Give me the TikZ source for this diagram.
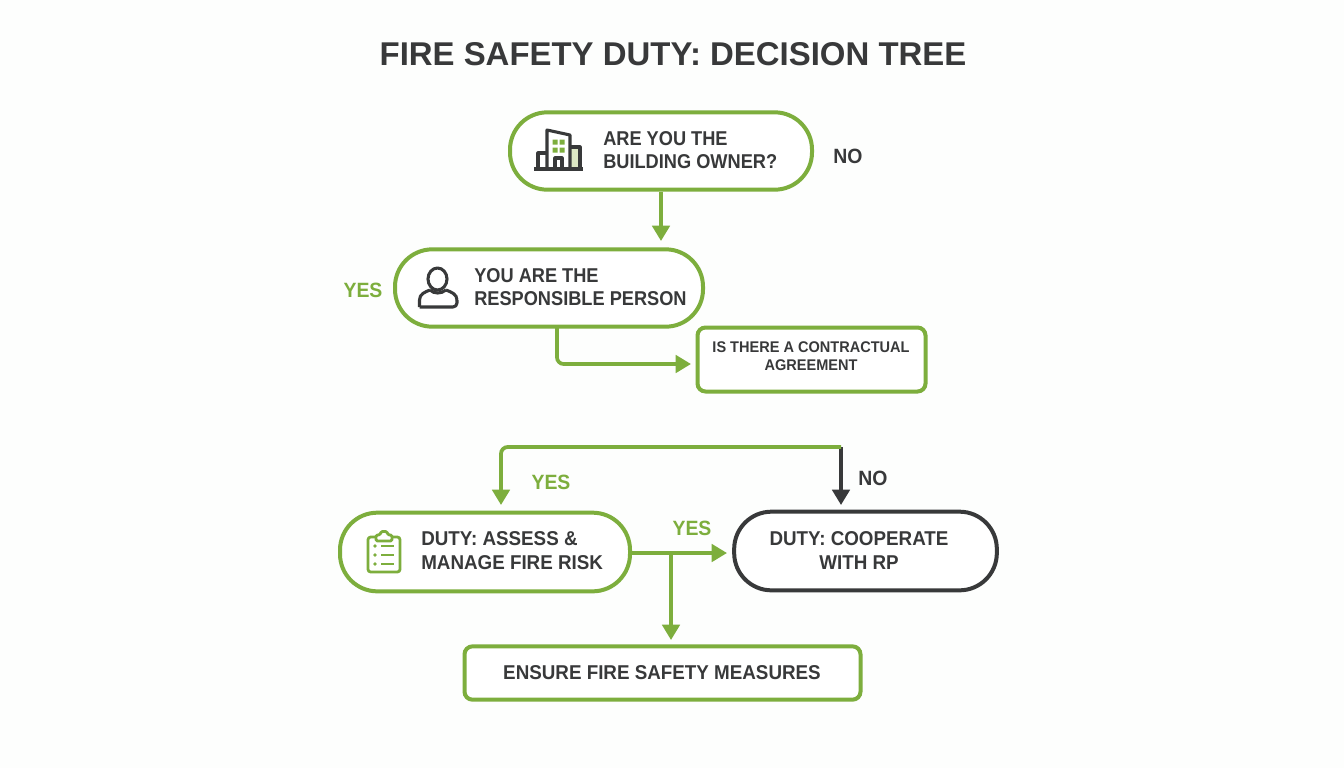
\documentclass[tikz,border=0pt]{standalone}
\usepackage{fontspec}
\setmainfont{Liberation Sans}
\newfontfamily\medfont[FakeStretch=0.91]{Liberation Sans Bold}
\newfontfamily\widefont[FakeStretch=0.94]{Liberation Sans Bold}
\usetikzlibrary{arrows.meta,calc}
\definecolor{lime}{HTML}{7DAE3D}
\definecolor{ink}{HTML}{38393A}
\definecolor{pale}{HTML}{DDE8C4}
\definecolor{paper}{HTML}{FDFEFD}
\tikzset{
  x=0.75pt,y=-0.75pt,
  pill/.style={draw=lime,line width=3pt,fill=white,rounded corners=28pt,text=ink,align=center,inner sep=0pt},
  card/.style={pill,rounded corners=6pt},
  lab/.style={font=\widefont\fontsize{15.5}{18}\selectfont,inner sep=0pt},
  link/.style={draw=lime,line width=2.8pt,rounded corners=5pt},
  tip/.style={-{Triangle[length=11.5pt,width=13pt]}},
  icon/.style={draw=ink,line width=2.3pt,line join=round},
  gicon/.style={draw=lime,line width=2.1pt,line join=round},
  txt/.style={text=ink,font=\medfont\fontsize{15}{17.6}\selectfont,inner sep=0pt},
  wtxt/.style={text=ink,font=\widefont\fontsize{15}{18}\selectfont,inner sep=0pt}
}
\begin{document}
\begin{tikzpicture}
\useasboundingbox (0,0) rectangle (1344,768);
\fill[paper] (0,0) rectangle (1344,768);
\node[font=\bfseries\fontsize{24.7}{28}\selectfont,text=ink,inner sep=0pt] (title) at (673,54) {FIRE SAFETY DUTY: DECISION TREE};
\node[pill,minimum width=226.5pt,minimum height=58pt] (owner) at (661,151) {};
\node[pill,minimum width=231pt,minimum height=58pt] (person) at (549,288) {};
\node[card,minimum width=171pt,minimum height=48pt] (contract) at (811.5,359.5) {};
\node[pill,minimum width=217.5pt,minimum height=59pt] (assess) at (485,552) {};
\node[pill,draw=ink,minimum width=197pt,minimum height=59pt] (cooperate) at (865.5,551) {};
\node[card,minimum width=297pt,minimum height=40pt] (ensure) at (662.5,673) {};
\node[txt,align=left,anchor=west] (ownertxt) at (603,150) {ARE YOU THE\\BUILDING OWNER?};
\node[txt,align=left,anchor=west] (persontxt) at (474,287) {YOU ARE THE\\RESPONSIBLE PERSON};
\node[wtxt,font=\widefont\fontsize{11.6}{13.6}\selectfont,align=center] (contracttxt) at (811,356) {IS THERE A CONTRACTUAL\\AGREEMENT};
\node[wtxt,align=left,anchor=west] (assesstxt) at (421,551) {DUTY: ASSESS \&\\MANAGE FIRE RISK};
\node[wtxt,align=center] (cooperatetxt) at (859,551) {DUTY: COOPERATE\\WITH RP};
\node[wtxt] (ensuretxt) at (662,673) {ENSURE FIRE SAFETY MEASURES};
\node[lab,text=ink] (no1) at (848,156) {NO};
\node[lab,text=lime] (yes1) at (363,290) {YES};
\node[lab,text=lime] (yes2) at (551,482) {YES};
\node[lab,text=ink] (no2) at (873,478) {NO};
\node[lab,text=lime] (yes3) at (692,528) {YES};
% connectors
\coordinate (j1) at (557,364);
\coordinate (j2) at (841,447);
\coordinate (j3) at (501,447);
\coordinate (j4) at (671,553);
\coordinate (e1) at (661,241);
\coordinate (e2) at (691,364);
\coordinate (e3) at (501,505);
\coordinate (e4) at (841,505);
\coordinate (e5) at (727,553);
\coordinate (e6) at (671,640);
\coordinate (s2) at (557,328);
\coordinate (s5) at (631,553);
\draw[link,draw=ink,tip] (j2) -- (e4);
\draw[link,tip] (owner.south) -- (e1);
\draw[link,tip] (s2) -- (j1) -- (e2);
\draw[link,tip] (j2) -- (j3) -- (e3);
\draw[link,tip] (s5) -- (e5);
\draw[link,tip] (j4) -- (e6);
% building icon
\fill[pale] (570,147) rectangle (580,168);
\draw[icon] (534,169) -- (583,169);
\draw[icon] (547,169) -- (547,130) -- (570,135) -- (570,169);
\draw[icon] (547,153) -- (538,153) -- (538,169);
\draw[icon] (570,147) -- (580,147) -- (580,169);
\draw[icon] (555,169) -- (555,158) -- (562,158) -- (562,169);
\fill[lime] (552.5,139.5) rectangle +(5,5) (559.5,139.5) rectangle +(5,5) (552.5,147.5) rectangle +(5,5) (559.5,147.5) rectangle +(5,5);
% person icon
\draw[icon] (437.5,279) ellipse [x radius=9.5,y radius=11];
\draw[icon,rounded corners=3pt] (419.5,307) -- (457,307) -- (457,300);
\draw[icon] (457,300) .. controls (457,294) and (451,292) .. (446,290);
\draw[icon] (419.5,307) -- (419.5,300) .. controls (419.5,294) and (425,292) .. (430,290);
\draw[icon] (430,290) .. controls (434,294) and (441,294) .. (446,290);
% clipboard icon
\draw[gicon,rounded corners=2pt] (376,537) -- (368,537) -- (368,572) -- (400,572) -- (400,537) -- (392,537);
\draw[gicon,rounded corners=1pt] (376,541) -- (376,535) -- (380,535) -- (381,531.5) -- (387,531.5) -- (388,535) -- (392,535) -- (392,541) -- cycle;
\foreach \n in {546,555,564}{
  \fill[lime] (375,\n) circle (1.8);
  \draw[gicon] (381,\n) -- (394,\n);
}
\end{tikzpicture}
\end{document}
